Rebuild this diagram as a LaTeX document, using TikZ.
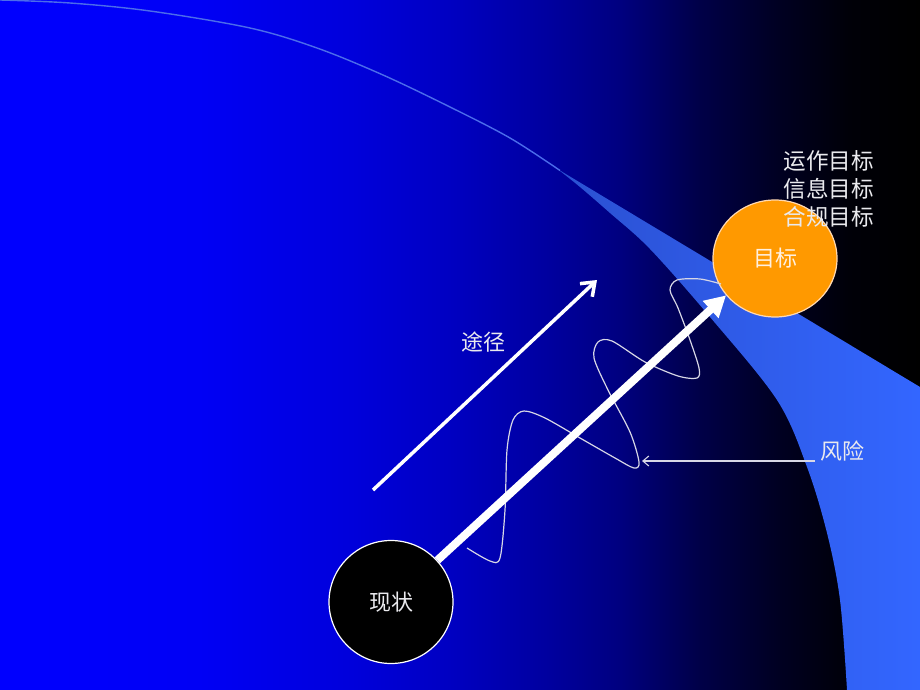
\documentclass[tikz,border=0pt]{standalone}
\usepackage{fontspec}
\newfontfamily\cjk{Noto Sans CJK SC}
\usetikzlibrary{arrows.meta,shapes.geometric}
\pgfdeclarehorizontalshading{bgshade}{690pt}{rgb(0pt)=(0,0,1); rgb(200pt)=(0,0,0.96); rgb(350pt)=(0,0,0.86); rgb(450pt)=(0,0,0.76); rgb(550pt)=(0,0,0.62); rgb(620pt)=(0,0,0.5); rgb(700pt)=(0,0,0.28); rgb(780pt)=(0,0,0.13); rgb(850pt)=(0,0,0.03); rgb(920pt)=(0,0,0)}
\pgfdeclarehorizontalshading{bandshade}{690pt}{rgb(0pt)=(0.16,0.30,0.80); rgb(580pt)=(0.17,0.32,0.83); rgb(920pt)=(0.20,0.40,1)}
\definecolor{txtgrey}{RGB}{234,234,238}
\definecolor{goalorange}{RGB}{255,153,0}
\definecolor{thinline}{RGB}{75,108,235}
\definecolor{wavegrey}{RGB}{215,215,230}
\begin{document}
\begin{tikzpicture}[x=1pt,y=-1pt,
  lbl/.style={font=\cjk\fontsize{22}{26}\selectfont, text=txtgrey, inner sep=0pt},
  listlbl/.style={font=\cjk\fontsize{22.6}{26}\selectfont, text=txtgrey, inner sep=0pt, anchor=east},
  ball/.style={ellipse, inner sep=0pt, line width=1.2pt, font=\cjk\fontsize{22}{26}\selectfont},
  wave/.style={draw=wavegrey, line width=1.2pt},
  patharrow/.style={draw=white, line width=3.5pt, -{Straight Barb[length=12pt,width=18pt]}},
  mainarrow/.style={draw=white, line width=8pt, -{Triangle[length=21pt,width=22pt]}},
  riskarrow/.style={draw=wavegrey, line width=1.1pt, -{Straight Barb[length=6pt,width=10pt]}}]
\useasboundingbox (0,0) rectangle (920,690);
% background
\node[inner sep=0pt, outer sep=0pt, anchor=north west] (bg) at (0,0) {\pgfuseshading{bgshade}};
% crescent band
\begin{scope}
  \clip (560,170.5) -- (920,387) -- (920,690) -- (847,690)
     -- plot[smooth,tension=0.55] coordinates {(847,690) (840,600) (827,533) (807,467) (777,400) (710,317) (650,249) (610,213) (580,187) (560,171)} -- cycle;
  \node[inner sep=0pt, outer sep=0pt, anchor=north west] (bandfill) at (0,0) {\pgfuseshading{bandshade}};
\end{scope}
\draw[thinline, line width=1.4pt] plot[smooth,tension=0.55] coordinates {(0,0) (70,3) (150,11) (250,28) (317,48) (383,75) (450,107) (510,138) (560,170.5)};
% circles
\node[ball, draw=white, fill=black, text=txtgrey, minimum width=124pt, minimum height=123pt] (now) at (391,602) {现状};
\node[ball, draw=orange!30!white, fill=goalorange, text=white!88!orange, minimum width=124pt, minimum height=117pt] (goal) at (775,258.5) {目标};
% risk wave
\draw[wave] plot[smooth,tension=0.5] coordinates {(467,548) (490,561) (500,558) (505,510) (507,450) (513,420) (524,411) (545,418) (580,438) (615,458) (634,468) (639,462) (630,432) (608,390) (594,358) (598,342) (612,341) (645,362) (678,376) (697,378) (699,368) (690,340) (678,308) (670,290) (677,280) (700,279) (721,284)};
% path arrow
\coordinate (pathA) at (373,490);
\coordinate (pathB) at (597,280);
\draw[patharrow] (pathA) -- (pathB);
% main arrow
\draw[mainarrow] (now.42) -- (goal.217);
% labels
\node[lbl] (route) at (483,342) {途径};
\node[lbl] (risk) at (842,451) {风险};
\coordinate (riskA) at (815,461);
\coordinate (riskB) at (642,461);
\draw[riskarrow] (riskA) -- (riskB);
\node[listlbl] (g1) at (874,161) {运作目标};
\node[listlbl] (g2) at (874,189) {信息目标};
\node[listlbl] (g3) at (874,217) {合规目标};
\end{tikzpicture}
\end{document}
